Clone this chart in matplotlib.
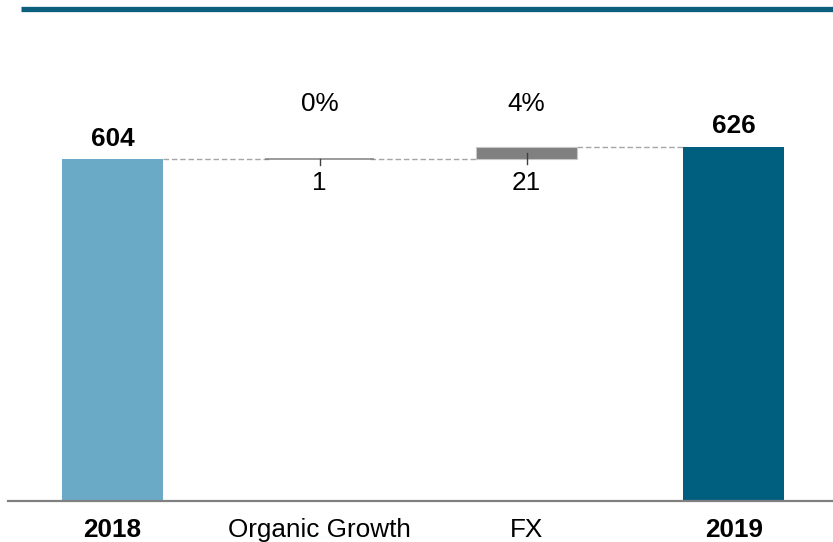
import matplotlib
matplotlib.use("Agg")
import matplotlib.pyplot as plt
from matplotlib.lines import Line2D
import matplotlib.transforms as mtrans

categories = ["2018", "Organic Growth", "FX", "2019"]
start_value = 604
deltas = [1, 21]
end_value = 626
pct_labels = ["0%", "4%"]

plt.rcParams['font.family'] = ['Liberation Sans', 'DejaVu Sans']

W, H = 833, 542
fig = plt.figure(figsize=(W / 100, H / 100), dpi=100)
px_per_unit = 0.566
ax_left_px, ax_bottom_px, ax_top_px = 8, 501, 20
ax = fig.add_axes([ax_left_px / W, (H - ax_bottom_px) / H,
                   (W - ax_left_px) / W, (ax_bottom_px - ax_top_px) / H])

c2018 = "#6aaac6"
c2019 = "#005e7e"
cfx = "#808080"
bw = 0.488
fs = 18.8
x = list(range(len(categories)))

# totals
ax.bar(x[0], start_value, width=bw, color=c2018, zorder=2)
ax.bar(x[3], end_value, width=bw, color=c2019, zorder=2)

# deltas
cum = start_value
for i, d in enumerate(deltas):
    xi = x[i + 1]
    if d <= 1:
        ax.plot([xi - bw / 2 - 0.02, xi + bw / 2 + 0.02], [cum + d / 2] * 2,
                color=cfx, lw=1.1, zorder=3, solid_capstyle='butt')
    else:
        ax.bar(xi, d, bottom=cum, width=bw, color=cfx, edgecolor="#c8c8c8",
               linewidth=0.8, zorder=2)
    # small tick
    ax.plot([xi, xi], [cum + d / 2, cum - 10], color="#404040", lw=1.0, zorder=4)
    ax.text(xi, cum, str(d), ha='center', va='center', fontsize=fs,
            color='black',
            transform=ax.transData + mtrans.ScaledTranslation(
                0, -24 / 100, fig.dpi_scale_trans))
    ax.text(xi, 701, pct_labels[i], ha='center', va='center', fontsize=fs,
            color='black')
    cum += d

# connectors
conn = [(x[0] + bw / 2, x[1] - bw / 2, start_value),
        (x[1] + bw / 2, x[2] - bw / 2, start_value + deltas[0]),
        (x[2] + bw / 2, x[3] - bw / 2, end_value)]
for x0, x1, yv in conn:
    ax.plot([x0, x1], [yv, yv], color="#a6a6a6", lw=1.0, ls=(0, (4, 2)), zorder=1)

# total labels
for xi, v in [(x[0], start_value), (x[3], end_value)]:
    ax.annotate(str(v), (xi, v), xytext=(0, 6), textcoords='offset points',
                ha='center', va='bottom', fontsize=fs, fontweight='bold',
                color='black')

ax.set_xlim(-0.505, 3.48)
ax.set_ylim(0, (ax_bottom_px - ax_top_px) / px_per_unit)
ax.set_xticks(x)
ax.set_xticklabels(categories, fontsize=fs)
for lbl in ax.get_xticklabels():
    if lbl.get_text() in ("2018", "2019"):
        lbl.set_fontweight('bold')
ax.tick_params(axis='x', length=0, pad=12)
ax.set_yticks([])
for s in ['top', 'right', 'left']:
    ax.spines[s].set_visible(False)
ax.spines['bottom'].set_color('#808080')
ax.spines['bottom'].set_linewidth(1.6)

# top decorative line
fig.add_artist(Line2D([21 / W, 1], [1 - 8.5 / H, 1 - 8.5 / H],
                      color="#0b5f7c", lw=3.8, solid_capstyle='butt'))

fig.savefig("out.png", dpi=100)
